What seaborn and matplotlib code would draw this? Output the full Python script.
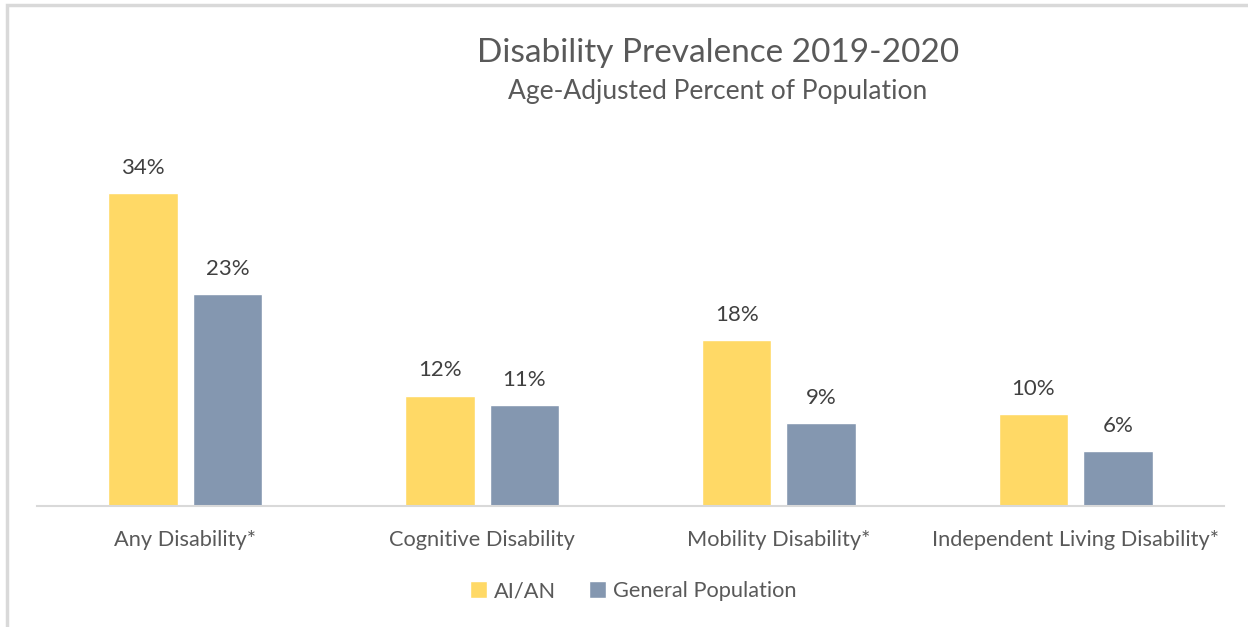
import matplotlib
matplotlib.use("Agg")
import matplotlib.pyplot as plt
from matplotlib.patches import Rectangle
import seaborn as sns
import pandas as pd

categories = ["Any Disability*", "Cognitive Disability", "Mobility Disability*",
              "Independent Living Disability*"]
aian = [34, 12, 18, 10]
general = [23, 11, 9, 6]
series_names = ["AI/AN", "General Population"]

df = pd.DataFrame({
    "category": categories * 2,
    "value": aian + general,
    "group": [series_names[0]] * len(categories) + [series_names[1]] * len(categories),
})

sns.set_theme(style="white")
plt.rcParams["font.family"] = ["Lato", "DejaVu Sans"]

W, H = 1248, 627
fig = plt.figure(figsize=(W / 100, H / 100), dpi=100)
ax = fig.add_axes([37 / W, (H - 506) / H, 1187 / W, 368 / H])

palette = {series_names[0]: "#FFD966", series_names[1]: "#8497B0"}
sns.barplot(data=df, x="category", y="value", hue="group", palette=palette,
            width=0.57, gap=0.18, saturation=1, ax=ax, legend=True)

for cont in ax.containers:
    ax.bar_label(cont, fmt="%d%%", padding=11, fontsize=16, color="#404040")

ax.set_ylim(0, 40)
ax.set_xlim(-0.5, 3.5)
ax.set_xlabel("")
ax.set_ylabel("")
ax.set_yticks([])
for s in ["left", "right", "top"]:
    ax.spines[s].set_visible(False)
ax.spines["bottom"].set_color("#D9D9D9")
ax.spines["bottom"].set_linewidth(1.5)
ax.tick_params(axis="x", length=0, pad=17, labelsize=15.7, labelcolor="#595959")

handles, labels = ax.get_legend_handles_labels()
ax.get_legend().remove()
fig.legend(handles, labels, loc="center", bbox_to_anchor=(633 / W, 1 - 591 / H),
           ncol=2, frameon=False, fontsize=15.7, labelcolor="#595959",
           handlelength=0.8, handleheight=0.8, handletextpad=0.3,
           columnspacing=1.5)

fig.text(718 / W, 1 - 53 / H, "Disability Prevalence 2019-2020", ha="center",
         va="center", fontsize=24, color="#595959")
fig.text(718 / W, 1 - 92 / H, "Age-Adjusted Percent of Population", ha="center",
         va="center", fontsize=19, color="#595959")

fig.patches.append(Rectangle((7 / W, -0.1), 1.2, 1.1 - 5 / H, transform=fig.transFigure,
                             fill=False, edgecolor="#D9D9D9", linewidth=2.5))

fig.savefig("out.png", dpi=100)
